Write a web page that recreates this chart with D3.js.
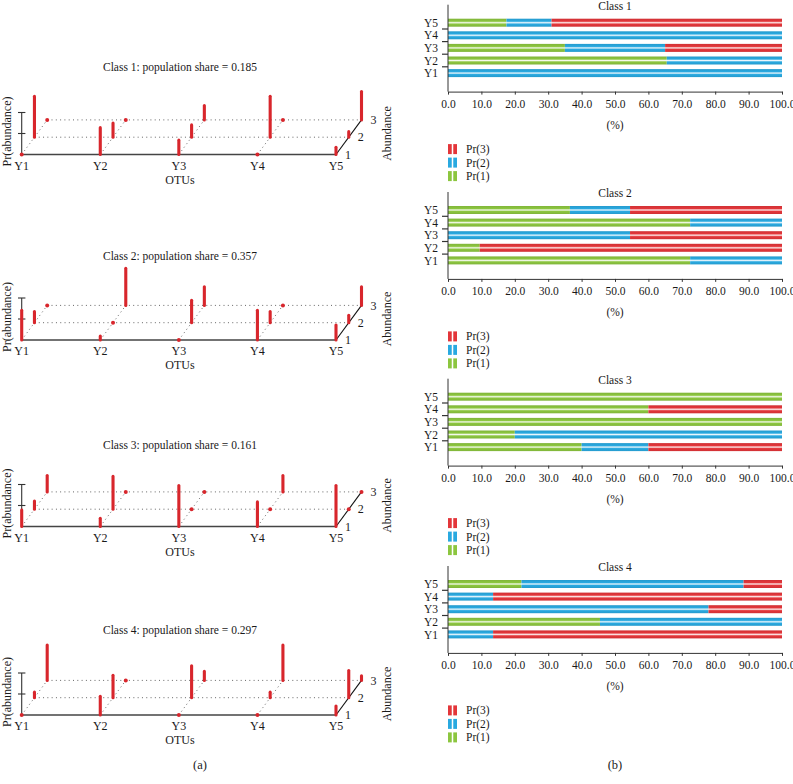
<!DOCTYPE html>
<html>
<head>
<meta charset="utf-8">
<script src="https://d3js.org/d3.v7.min.js"></script>
<style>
 body { margin: 0; background: #fff; }
 text { font-family: "Liberation Serif", "DejaVu Serif", serif; fill: #1a1a1a; }
</style>
</head>
<body>
<svg width="793" height="784"></svg>
<script>
// data
var otus = ["Y1", "Y2", "Y3", "Y4", "Y5"];
var classes = ["Class 1", "Class 2", "Class 3", "Class 4"];
var shares = ["0.185", "0.357", "0.161", "0.297"];
var levels = [1, 2, 3];
var prKeys = ["pr1", "pr2", "pr3"];
var prLabels = ["Pr(1)", "Pr(2)", "Pr(3)"];
// percentages per class, in order Y1..Y5
var pr1 = [[0, 65.5, 35, 0, 17.5], [72.5, 9.5, 0, 72.5, 36.5], [40, 20, 100, 60, 100], [0, 45.5, 0, 0, 22]];
var pr2 = [[100, 34.5, 30, 100, 13.5], [27.5, 0, 54.5, 27.5, 18], [20, 80, 0, 0, 0], [13.5, 54.5, 78, 13.5, 66.5]];
var pr3 = [[0, 0, 35, 0, 69], [0, 90.5, 45.5, 0, 45.5], [40, 0, 0, 40, 0], [86.5, 0, 22, 86.5, 11.5]];
var pctTicks = [0, 10, 20, 30, 40, 50, 60, 70, 80, 90, 100];

var colors = {pr1: "#8cc63f", pr2: "#29a9e0", pr3: "#e3363a"};
var red = "#d8262c";

var svg = d3.select("svg");
var defs = svg.append("defs");

// striped look of the bars (white line through the middle)
prKeys.forEach(function(k) {
  var c = d3.color(colors[k]);
  var g = defs.append("linearGradient").attr("id", "h-" + k)
    .attr("x1", 0).attr("y1", 0).attr("x2", 0).attr("y2", 1);
  g.append("stop").attr("offset", "0%").attr("stop-color", c.darker(0.25));
  g.append("stop").attr("offset", "32%").attr("stop-color", c);
  g.append("stop").attr("offset", "50%").attr("stop-color", d3.interpolateRgb(c, "#fff")(0.9));
  g.append("stop").attr("offset", "68%").attr("stop-color", c);
  g.append("stop").attr("offset", "100%").attr("stop-color", c.darker(0.25));
  var v = defs.append("linearGradient").attr("id", "v-" + k)
    .attr("x1", 0).attr("y1", 0).attr("x2", 1).attr("y2", 0);
  v.append("stop").attr("offset", "0%").attr("stop-color", c);
  v.append("stop").attr("offset", "35%").attr("stop-color", c);
  v.append("stop").attr("offset", "50%").attr("stop-color", "#fff");
  v.append("stop").attr("offset", "65%").attr("stop-color", c);
  v.append("stop").attr("offset", "100%").attr("stop-color", c);
});

function rows(ci) {
  return otus.map(function(o, i) {
    return {otu: o, pr1: pr1[ci][i], pr2: pr2[ci][i], pr3: pr3[ci][i]};
  });
}

// ---------------- (a) left: pseudo 3D stick plots ----------------
var leftBase = [154.5, 340, 526.5, 715];
var leftTitle = [66.5, 256, 445, 630];

var xL = d3.scalePoint().domain(otus).range([21.7, 336]);
var dX = d3.scaleLinear().domain([1, 3]).range([0, 25.5]);
var dY = d3.scaleLinear().domain([1, 3]).range([0, -34.6]);
var hL = d3.scaleLinear().domain([0, 100]).range([0, 41]);

classes.forEach(function(cls, ci) {
  var base = leftBase[ci];
  var g = svg.append("g");
  var data = rows(ci);

  g.append("text").attr("x", 180).attr("y", leftTitle[ci]).attr("dy", "0.35em")
    .attr("text-anchor", "middle").style("font-size", "11.5px")
    .text(cls + ": population share = " + shares[ci]);

  // horizontal dotted guides at abundance 2 and 3
  [2, 3].forEach(function(l) {
    g.append("line")
      .attr("x1", xL("Y1") + dX(l)).attr("x2", xL("Y5") + dX(l))
      .attr("y1", base + dY(l)).attr("y2", base + dY(l))
      .attr("stroke", "#666").attr("stroke-width", 1).attr("stroke-dasharray", "1,3.3");
  });
  // diagonal dotted guides
  otus.slice(0, 4).forEach(function(o) {
    g.append("line")
      .attr("x1", xL(o)).attr("y1", base)
      .attr("x2", xL(o) + dX(3)).attr("y2", base + dY(3))
      .attr("stroke", "#666").attr("stroke-width", 1).attr("stroke-dasharray", "1,3.3");
  });
  // solid depth axis at Y5
  g.append("line")
    .attr("x1", xL("Y5")).attr("y1", base)
    .attr("x2", xL("Y5") + dX(3)).attr("y2", base + dY(3))
    .attr("stroke", "#111").attr("stroke-width", 1.1);
  // base line
  g.append("line")
    .attr("x1", xL("Y1")).attr("x2", xL("Y5")).attr("y1", base).attr("y2", base)
    .attr("stroke", "#444").attr("stroke-width", 1.4);

  // Pr(abundance) axis
  var yP = d3.scaleLinear().domain([0, 1]).range([base, base - 42]);
  g.append("line").attr("x1", xL("Y1")).attr("x2", xL("Y1"))
    .attr("y1", yP(0)).attr("y2", yP(1)).attr("stroke", "#333").attr("stroke-width", 1.1);
  g.selectAll(".ptick").data([0.5, 1]).enter().append("line")
    .attr("x1", xL("Y1") - 3.7).attr("x2", xL("Y1") + 3.7)
    .attr("y1", function(d) { return yP(d); }).attr("y2", function(d) { return yP(d); })
    .attr("stroke", "#333").attr("stroke-width", 1.1);

  // level labels
  levels.forEach(function(l) {
    g.append("text").attr("x", xL("Y5") + dX(l) + 9).attr("y", base + dY(l)).attr("dy", "0.35em")
      .style("font-size", "12px").text(l);
  });

  // sticks
  data.forEach(function(d) {
    levels.forEach(function(l, li) {
      var v = d[prKeys[li]];
      var x0 = xL(d.otu) + dX(l), y0 = base + dY(l);
      if (v > 0) {
        g.append("line").attr("x1", x0).attr("x2", x0)
          .attr("y1", y0).attr("y2", y0 - hL(v))
          .attr("stroke", red).attr("stroke-width", 3.1).attr("stroke-linecap", "round");
      } else {
        g.append("circle").attr("cx", x0).attr("cy", y0).attr("r", 2).attr("fill", red);
      }
    });
  });

  // category labels
  g.selectAll(".otu").data(otus).enter().append("text")
    .attr("x", function(d) { return xL(d); }).attr("y", base + 11).attr("dy", "0.35em")
    .attr("text-anchor", "middle").style("font-size", "12px").text(function(d) { return d; });
  g.append("text").attr("x", 180).attr("y", base + 25).attr("dy", "0.35em")
    .attr("text-anchor", "middle").style("font-size", "12px").text("OTUs");
  g.append("text").attr("transform", "translate(7," + (base - 23) + ") rotate(-90)")
    .attr("dy", "0.35em").attr("text-anchor", "middle").style("font-size", "12px").text("Pr(abundance)");
  g.append("text").attr("transform", "translate(387," + (base - 21) + ") rotate(-90)")
    .attr("dy", "0.35em").attr("text-anchor", "middle").style("font-size", "12px").text("Abundance");
});

svg.append("text").attr("x", 200).attr("y", 765).attr("dy", "0.35em")
  .attr("text-anchor", "middle").style("font-size", "12.5px").text("(a)");

// ---------------- (b) right: stacked horizontal bars ----------------
var topY5 = [22.7, 210, 396.7, 584];
var step = 12.6;
var x = d3.scaleLinear().domain([0, 100]).range([448, 782]);
var stack = d3.stack().keys(prKeys);

classes.forEach(function(cls, ci) {
  var g = svg.append("g");
  var yTop = topY5[ci];
  var y = d3.scalePoint().domain(otus).range([yTop + 4 * step, yTop]);
  var bottom = y("Y1") + 18.5;
  var top = yTop - 18;
  var series = stack(rows(ci));

  g.append("text").attr("x", 615).attr("y", yTop - 17).attr("dy", "0.35em")
    .attr("text-anchor", "middle").style("font-size", "11.5px").text(cls);

  g.selectAll(".s").data(series).enter().append("g")
    .attr("fill", function(s) { return "url(#h-" + s.key + ")"; })
    .selectAll("rect").data(function(s) { return s; }).enter().append("rect")
    .attr("x", function(d) { return x(d[0]); })
    .attr("width", function(d) { return x(d[1]) - x(d[0]); })
    .attr("y", function(d) { return y(d.data.otu) - 4; })
    .attr("height", 8);

  // x axis
  var ax = g.append("g").attr("transform", "translate(0," + bottom + ")")
    .call(d3.axisBottom(x).tickValues(pctTicks).tickFormat(d3.format(".1f")).tickSize(3).tickPadding(5).tickSizeOuter(0));
  ax.selectAll("text").style("font-size", "11.5px").style("font-family", "Liberation Serif, serif").attr("fill", "#1a1a1a");
  ax.selectAll("line, path").attr("stroke", "#333");

  // y axis: labels at bars, ticks between bars
  var ay = g.append("g").attr("transform", "translate(448,0)")
    .call(d3.axisLeft(y).tickSize(0).tickPadding(10));
  ay.select(".domain").remove();
  ay.selectAll("text").style("font-size", "11.5px").style("font-family", "Liberation Serif, serif").attr("fill", "#1a1a1a");
  g.append("line").attr("x1", 448).attr("x2", 448).attr("y1", top).attr("y2", bottom)
    .attr("stroke", "#333").attr("stroke-width", 1);
  g.selectAll(".mt").data(otus.slice(1)).enter().append("line")
    .attr("x1", 442).attr("x2", 448)
    .attr("y1", function(d, i) { return (y(d) + y(otus[i])) / 2; })
    .attr("y2", function(d, i) { return (y(d) + y(otus[i])) / 2; })
    .attr("stroke", "#333").attr("stroke-width", 1.2);

  g.append("text").attr("x", 615).attr("y", bottom + 33).attr("dy", "0.35em")
    .attr("text-anchor", "middle").style("font-size", "11.5px").text("(%)");

  // legend
  var lg = g.selectAll(".lg").data(prKeys.slice().reverse()).enter().append("g")
    .attr("transform", function(d, i) { return "translate(448," + (y("Y1") + 76 + i * 13.5) + ")"; });
  lg.append("rect").attr("x", 0).attr("y", -5).attr("width", 9).attr("height", 10)
    .attr("fill", function(d) { return "url(#v-" + d + ")"; });
  lg.append("text").attr("x", 18).attr("dy", "0.35em").style("font-size", "11.5px")
    .text(function(d) { return prLabels[prKeys.indexOf(d)]; });
});

svg.append("text").attr("x", 615).attr("y", 765).attr("dy", "0.35em")
  .attr("text-anchor", "middle").style("font-size", "12.5px").text("(b)");
</script>
</body>
</html>
